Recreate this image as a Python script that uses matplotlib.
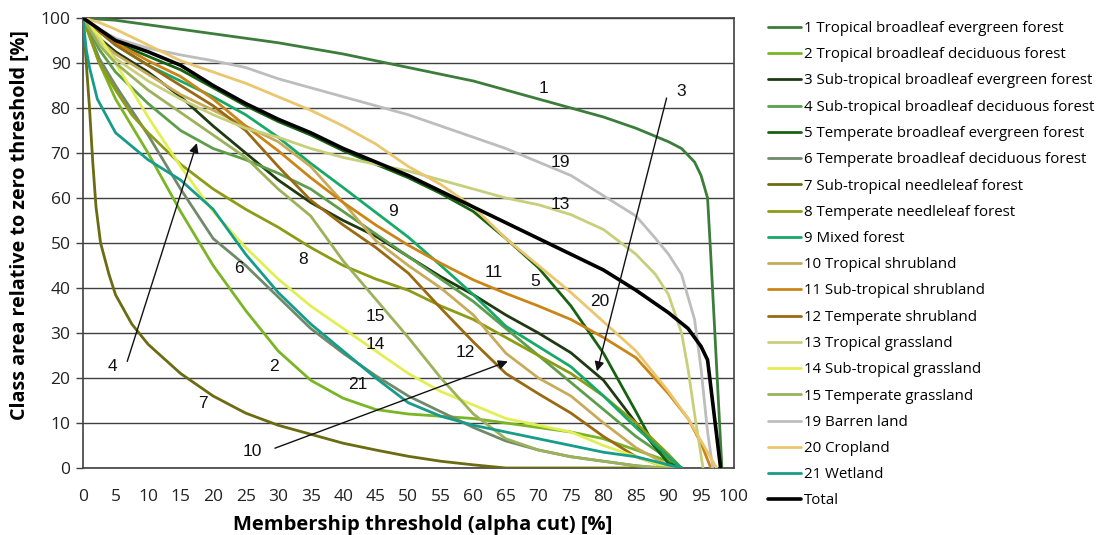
import matplotlib
matplotlib.use("Agg")
import matplotlib.pyplot as plt
from matplotlib.ticker import MultipleLocator

# ---------------- data ----------------
names = ["1 Tropical broadleaf evergreen forest",
         "2 Tropical broadleaf deciduous forest",
         "3 Sub-tropical broadleaf evergreen forest",
         "4 Sub-tropical broadleaf deciduous forest",
         "5 Temperate broadleaf evergreen forest",
         "6 Temperate broadleaf deciduous forest",
         "7 Sub-tropical needleleaf forest",
         "8 Temperate needleleaf forest",
         "9 Mixed forest",
         "10 Tropical shrubland",
         "11 Sub-tropical shrubland",
         "12 Temperate shrubland",
         "13 Tropical grassland",
         "14 Sub-tropical grassland",
         "15 Temperate grassland",
         "19 Barren land",
         "20 Cropland",
         "21 Wetland",
         "Total"]

colors = ["#3c7d3c", "#7ab526", "#1f3a12", "#5e9e4a", "#17620f", "#71896b",
          "#6b6b12", "#8c9c14", "#18a868", "#c8ab5a", "#c98516", "#9a6a12",
          "#c8cf7a", "#e3ee55", "#9bb25a", "#bdbdbd", "#eac66e", "#169c8a",
          "#000000"]

x1 = [0, 5, 10, 20, 25, 30, 40, 50, 60, 70, 75, 80, 85, 90, 92, 94, 95, 96, 96.5, 97.3, 98.2]
y1 = [100, 99.5, 98.5, 96.5, 95.5, 94.5, 92, 89, 86, 82, 80, 78, 75.5, 72.5, 71, 68, 65, 60, 47, 25, 0]

x2 = [0, 2.5, 5, 10, 15, 20, 25, 30, 35, 40, 45, 50, 55, 60, 65, 70, 75, 80, 85, 90, 92]
y2 = [100, 90, 82, 70, 57, 45, 35, 26, 19.5, 15.5, 13, 12, 11.5, 11, 10, 9, 8, 6.5, 4, 1.5, 0]

x3 = [0, 2.5, 5, 10, 15, 20, 25, 30, 35, 40, 45, 50, 55, 60, 65, 70, 75, 80, 85, 88, 91, 92]
y3 = [100, 95.5, 92.5, 88, 82.5, 76, 70, 64, 59, 55, 51.5, 47, 42.5, 38.5, 34, 30, 25.6, 19.5, 10, 4.5, 0.8, 0]

x4 = [0, 2.5, 5, 10, 15, 20, 25, 30, 35, 40, 45, 50, 55, 60, 65, 70, 75, 80, 85, 90, 92]
y4 = [100, 93, 88, 81, 75, 71, 68.5, 65.5, 62, 57, 52, 47, 42, 37, 31, 25, 19, 13, 7, 2, 0]

x5 = [0, 2.5, 5, 10, 15, 20, 25, 30, 35, 40, 45, 50, 55, 60, 65, 70, 75, 80, 85, 88, 90, 92]
y5 = [100, 97, 94.5, 91.5, 88.5, 84.5, 80.5, 77, 74, 70.5, 67.5, 64.5, 61, 57, 51, 44.5, 36, 25.5, 12.5, 4.5, 1, 0]

x6 = [0, 2.5, 5, 10, 15, 20, 25, 30, 35, 40, 45, 50, 55, 60, 65, 70, 75, 80, 85, 88]
y6 = [100, 91, 85, 74, 62, 51, 45, 38, 31, 25.5, 20.5, 16, 12.5, 9, 6, 4, 2.5, 1.5, 0.5, 0]

x7 = [0, 0.5, 1, 1.5, 2, 2.7, 4, 5, 7.5, 10, 15, 20, 25, 30, 35, 40, 45, 50, 55, 60, 65, 85]
y7 = [100, 90, 80, 68, 58, 50, 43, 38.5, 32, 27.5, 21, 16, 12.2, 9.5, 7.5, 5.5, 4, 2.6, 1.5, 0.7, 0, 0]

x8 = [0, 2.5, 5, 7.5, 10, 15, 20, 25, 30, 35, 40, 45, 50, 55, 60, 65, 70, 75, 80, 85, 90, 92]
y8 = [100, 90, 84, 78.5, 74.5, 67.5, 62, 57.5, 53.5, 49, 45, 42, 39.5, 36, 33, 29, 25, 21, 16, 10, 3, 0]

x9 = [0, 2.5, 5, 10, 15, 20, 25, 30, 35, 40, 45, 50, 55, 60, 65, 70, 75, 80, 85, 90, 92]
y9 = [100, 97, 94, 89.5, 86, 82.5, 78.5, 73.5, 67.7, 62.3, 56.8, 51.3, 45, 38.5, 31.5, 27, 22.5, 16, 9, 2.5, 0]

x10 = [0, 2.5, 5, 10, 15, 20, 25, 30, 35, 40, 45, 50, 55, 60, 65, 70, 75, 80, 85, 90, 91]
y10 = [100, 95, 92, 87.5, 83, 79.5, 76, 72.5, 67, 59, 50.5, 45, 40, 34, 25.5, 20, 16, 10, 4.5, 0.5, 0]

x11 = [0, 2.5, 5, 10, 15, 20, 25, 30, 35, 40, 45, 50, 55, 60, 65, 70, 75, 80, 85, 90, 93, 95, 96.5]
y11 = [100, 97, 94.5, 90.5, 87, 82, 76, 70.5, 64.5, 59, 54, 49.5, 45.5, 41.8, 38.8, 36, 33, 29, 24.5, 16.5, 11, 5.5, 0]

x12 = [0, 2.5, 5, 10, 15, 20, 25, 30, 35, 40, 45, 50, 55, 60, 65, 70, 75, 80, 85, 90]
y12 = [100, 97, 94, 89.5, 85, 80.5, 75, 67, 59.5, 54, 49, 43.3, 35.5, 28, 21, 16.5, 12.2, 7, 2.5, 0]

x13 = [0, 2.5, 5, 10, 15, 20, 25, 30, 35, 40, 45, 50, 55, 60, 65, 70, 75, 80, 85, 88, 90, 92, 93, 94, 95.3]
y13 = [100, 95, 91, 86, 82, 78.5, 75.5, 73.5, 71, 69, 67.5, 66, 64, 62, 60, 58.5, 56.3, 53, 47.5, 43, 38.5, 30, 22, 12, 0]

x14 = [0, 2.5, 5, 10, 15, 20, 25, 30, 35, 40, 45, 50, 55, 60, 65, 70, 75, 80, 85, 88, 90]
y14 = [100, 96, 90, 78, 67, 57, 49, 42, 36, 31, 26, 21, 17, 14, 11, 9.5, 8, 5, 2.5, 1, 0]

x15 = [0, 2.5, 5, 10, 15, 20, 25, 30, 35, 40, 45, 50, 55, 60, 65, 70, 75, 80, 85, 90]
y15 = [100, 94, 90, 84, 79, 74, 69, 62, 56, 46, 37.5, 29, 20, 12, 6.5, 4, 2.5, 1.5, 0.5, 0]

x19 = [0, 2.5, 5, 10, 15, 20, 25, 30, 35, 40, 45, 50, 55, 60, 65, 70, 75, 80, 85, 88, 90, 92, 94, 95, 96, 96.8]
y19 = [100, 97.5, 95.5, 93.3, 91.8, 90.5, 89, 86.5, 84.5, 82.5, 80.5, 78.5, 76, 73.5, 71, 68, 65, 60.5, 56, 51, 47.5, 43, 33, 22, 8, 0]

x20 = [0, 2.5, 5, 10, 15, 20, 25, 30, 35, 40, 45, 50, 55, 60, 65, 70, 75, 80, 85, 90, 93, 95, 97.4]
y20 = [100, 99, 97.5, 94, 90.5, 88, 85.5, 82.5, 79.5, 76, 72, 67, 63, 58, 51, 45, 39, 32.5, 26, 17, 11, 6, 0]

x21 = [0, 0.5, 1, 2.2, 5, 10, 15, 20, 25, 30, 35, 40, 45, 50, 55, 60, 65, 70, 75, 80, 85, 90, 92]
y21 = [100, 93, 89, 82, 74.5, 68.5, 64, 57.5, 47.5, 39, 32, 26, 20, 14.5, 11.5, 9.5, 8, 6.5, 5, 3.5, 2.5, 0.7, 0]

xT = [0, 2.5, 5, 10, 15, 20, 25, 30, 35, 40, 45, 50, 55, 60, 65, 70, 75, 80, 85, 88, 90, 93, 95, 96, 97, 98]
yT = [100, 97.5, 95, 92.5, 89.5, 85, 81, 77.5, 74.5, 71, 68, 65, 61.5, 58, 54.5, 51, 47.5, 44, 39.5, 36.5, 34.5, 31, 27, 24, 12, 0]

series_x = [x1, x2, x3, x4, x5, x6, x7, x8, x9, x10, x11, x12, x13, x14, x15, x19, x20, x21, xT]
series_y = [y1, y2, y3, y4, y5, y6, y7, y8, y9, y10, y11, y12, y13, y14, y15, y19, y20, y21, yT]

# curve number labels: text, x, y
lab_text = ["1", "19", "13", "9", "11", "5", "20", "8", "6", "15", "14", "12", "2", "21", "7"]
lab_x = [70.8, 73.3, 73.3, 47.7, 63.1, 69.5, 79.5, 33.9, 23.9, 44.9, 44.9, 58.7, 29.3, 42.3, 18.5]
lab_y = [84.4, 67.8, 58.5, 57.0, 43.4, 41.5, 37.0, 46.3, 44.4, 33.7, 27.4, 25.6, 22.6, 18.5, 14.4]

# arrow labels: text, text position, arrow tip
arr_text = ["4", "10", "3"]
arr_tx = [4.5, 26.0, 92.0]
arr_ty = [22.6, 3.7, 83.7]
arr_sx = [6.8, 29.5, 89.7]
arr_sy = [23.7, 4.4, 82.2]
arr_hx = [17.5, 65.3, 79.0]
arr_hy = [72.2, 23.7, 21.5]

# ---------------- figure ----------------
W, H = 1111, 535
fig = plt.figure(figsize=(W / 100, H / 100), dpi=100)
ax = fig.add_axes([83 / W, 1 - 468 / H, (733.6 - 83) / W, (468 - 18) / H])

for i, (xs, ys) in enumerate(zip(series_x, series_y)):
    lw = 2.6 if names[i] == "Total" else 2.0
    ax.plot(xs, ys, color=colors[i], lw=lw, label=names[i],
            solid_joinstyle="round", solid_capstyle="round", zorder=3 + (i == 18))

ax.set_xlim(0, 100)
ax.set_ylim(0, 100)

# x: labels every 5 (no gridline), gridlines every 25
ax.xaxis.set_major_locator(MultipleLocator(5))
ax.xaxis.set_minor_locator(MultipleLocator(25))
ax.tick_params(axis="x", which="major", length=0, pad=15, labelsize=12.5, colors="#222222")
ax.tick_params(axis="x", which="minor", length=5, width=1.0, color="#404040")
ax.yaxis.set_major_locator(MultipleLocator(10))
ax.tick_params(axis="y", which="major", length=5, width=1.0, color="#404040", pad=4,
               labelsize=12.5, colors="#222222")
ax.grid(False, axis="x", which="major")
ax.grid(True, axis="x", which="minor", color="#404040", lw=1.0)
ax.grid(True, axis="y", which="major", color="#404040", lw=1.0)
ax.set_axisbelow(True)
for s in ax.spines.values():
    s.set_color("#404040")
    s.set_linewidth(1.2)

for lab in ax.get_xticklabels() + ax.get_yticklabels():
    lab.set_family("Open Sans")

ax.set_xlabel("Membership threshold (alpha cut) [%]", fontsize=14.5, fontweight="bold",
              family="Open Sans")
ax.xaxis.set_label_coords(0.522, -0.104)
ax.set_ylabel("Class area relative to zero threshold [%]", fontsize=14.2, fontweight="bold",
              family="Open Sans")
ax.yaxis.set_label_coords(-0.082, 0.54)

for t, lx, ly in zip(lab_text, lab_x, lab_y):
    ax.text(lx, ly, t, fontsize=12.5, family="Liberation Sans", ha="center", va="center",
            color="#111111", zorder=6)

for t, tx, ty, sx, sy, hx, hy in zip(arr_text, arr_tx, arr_ty, arr_sx, arr_sy, arr_hx, arr_hy):
    ax.text(tx, ty, t, fontsize=12.5, family="Liberation Sans", ha="center", va="center",
            color="#111111", zorder=6)
    ax.annotate("", xy=(hx, hy), xytext=(sx, sy),
                arrowprops=dict(arrowstyle="-|>", color="#111111", lw=1.0,
                                mutation_scale=14, shrinkA=0, shrinkB=0), zorder=6)

leg = fig.legend(loc="upper left", bbox_to_anchor=(762 / W, 1 - 15 / H), frameon=False,
                 prop={"family": "Open Sans", "size": 10.8}, handlelength=2.2,
                 handletextpad=0.2, labelspacing=0.75, borderaxespad=0)

fig.savefig("out.png", dpi=100)
